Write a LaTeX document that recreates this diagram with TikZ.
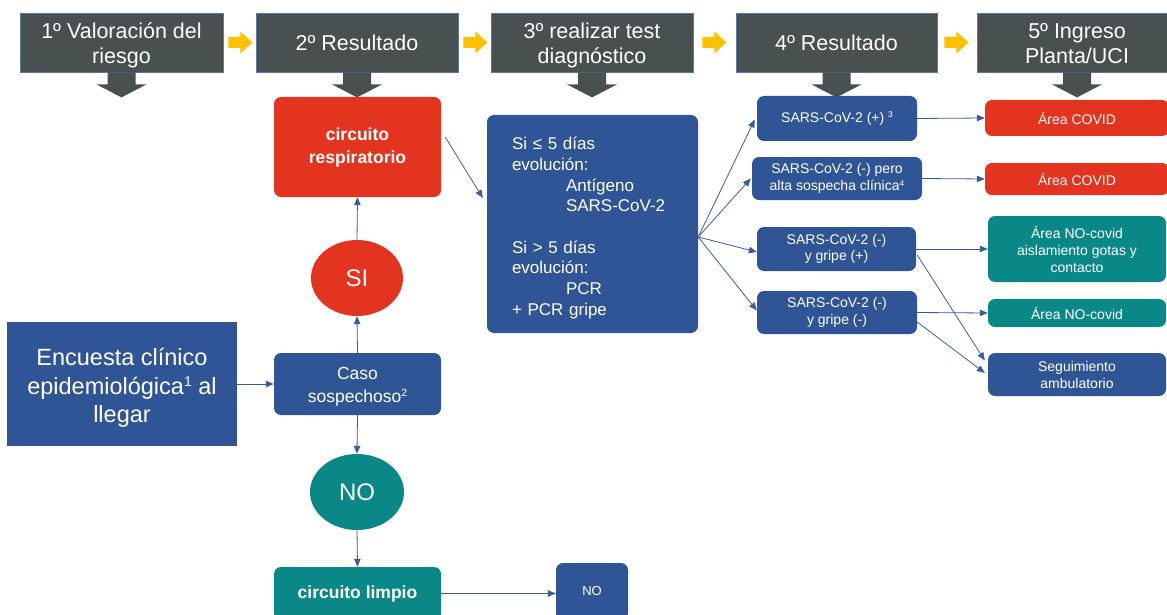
\documentclass[tikz,border=0pt]{standalone}
\usepackage{fontspec}
\setmainfont{Liberation Sans}
\usetikzlibrary{arrows.meta,shapes.geometric,calc}
\definecolor{hdrgray}{HTML}{485050}
\definecolor{mblue}{HTML}{2F5597}
\definecolor{lineblue}{HTML}{3A5C9E}
\definecolor{mred}{HTML}{E2341F}
\definecolor{mteal}{HTML}{0A8888}
\definecolor{myellow}{HTML}{FFC000}
\newcommand{\fs}[2]{\fontsize{#1}{#2}\selectfont}
% small raised footnote digit
\newcommand{\supr}[1]{\raisebox{0.3em}{\scalebox{0.6}{#1}}}
% invisible struts that fix the top and bottom of a text block
\newcommand{\topstrut}[1]{\rule{0pt}{#1}}
\newcommand{\botstrut}[1]{\rule[-#1]{0pt}{#1}}

\begin{document}
\begin{tikzpicture}[x=1pt,y=-1pt,
  hdr/.style={fill=hdrgray, draw=mblue!80, line width=0.8pt, text=white,
    font=\fs{21.5}{25}, align=center, minimum height=59pt, inner sep=0pt},
  box/.style={rounded corners=#1, text=white, align=center, inner sep=0pt},
  box/.default=7pt,
  bluebox/.style={box, fill=mblue},
  redbox/.style={box, fill=mred},
  tealbox/.style={box, fill=mteal},
  oval/.style={ellipse, text=white, inner sep=0pt, font=\fs{24}{28}},
  conn/.style={draw=lineblue, line width=0.8pt, -{Triangle[length=8pt,width=6.5pt]}},
  pics/downarrow/.style={code={
    \fill[hdrgray] (-14,0) -- (14,0) -- (14,12) -- (25,12) -- (0,25) -- (-25,12) -- (-14,12) -- cycle;}},
  pics/rightarrow/.style={code={
    \fill[myellow] (0,-5.5) -- (12,-5.5) -- (12,-11) -- (24,0) -- (12,11) -- (12,5.5) -- (0,5.5) -- cycle;}}
]
\useasboundingbox (0,0) rectangle (1167,615);

% step headers
\node[hdr, minimum width=203pt] (h1) at (121.5,42.5) {\topstrut{22pt}1º Valoración del\\riesgo\botstrut{4pt}};
\node[hdr, minimum width=202pt] (h2) at (357,42.5) {2º Resultado};
\node[hdr, minimum width=202pt] (h3) at (592,42.5) {\topstrut{22pt}3º realizar test\\diagnóstico\botstrut{4pt}};
\node[hdr, minimum width=201pt] (h4) at (836.5,42.5) {4º Resultado};
\node[hdr, minimum width=200pt] (h5) at (1077,42.5) {\topstrut{22pt}5º Ingreso\\Planta/UCI\botstrut{4pt}};

% yellow arrows between the steps
\pic at ($(h1.east)+(5,0)$) {rightarrow};
\pic at ($(h2.east)+(5,0)$) {rightarrow};
\pic at ($(h3.east)+(9,0)$) {rightarrow};
\pic at ($(h4.east)+(7,0)$) {rightarrow};

% grey arrows below the steps
\foreach \h in {h1,h2,h3,h4,h5} { \pic at (\h.south) {downarrow}; }

% step 1 and 2
\node[fill=mblue, text=white, align=center, inner sep=0pt, minimum width=230pt,
  minimum height=124pt, font=\fs{23.5}{28.5}] (enc) at (122,384)
  {\topstrut{25pt}Encuesta clínico\\epidemiológica\supr{1} al\\llegar\botstrut{5pt}};
\node[bluebox, minimum width=167pt, minimum height=62pt, font=\fs{17.5}{23}] (caso) at (357.5,384)
  {\topstrut{17pt}Caso\\sospechoso\supr{2}\botstrut{3pt}};
\node[oval, fill=mred, minimum width=92pt, minimum height=76pt] (si) at (357,278) {SI};
\node[redbox=12pt, minimum width=167pt, minimum height=100pt, font=\bfseries\fs{17.5}{23}] (resp) at (357.5,147)
  {circuito\\respiratorio};
\node[oval, fill=mteal, minimum width=94pt, minimum height=76pt] (no) at (357,492) {NO};
\node[tealbox, minimum width=167pt, minimum height=53pt, font=\bfseries\fs{17.5}{22}] (limpio) at (357.5,593.5)
  {circuito limpio};
\node[bluebox=9pt, minimum width=72pt, minimum height=57pt, font=\fs{13}{16}] (nobox) at (592,591.5) {NO};

% step 3
\node[bluebox=24pt, align=left, text width=161pt, inner xsep=25pt, minimum height=218pt,
  font=\fs{17}{20.7}] (test) at (592.5,224)
  {\topstrut{21pt}Si ≤ 5 días\\evolución:\\\hspace*{54pt}Antígeno\\\hspace*{54pt}SARS-CoV-2\\~\\Si > 5 días\\evolución:\\\hspace*{54pt}PCR\\+ PCR gripe\botstrut{4pt}};
\coordinate (fan) at ($(test.east)+(0,13)$);

% step 4
\node[bluebox, minimum width=160pt, minimum height=45pt, font=\fs{14}{16.7}] (r1) at (837,118.5)
  {SARS-CoV-2 (+) \supr{3}};
\node[bluebox, minimum width=170pt, minimum height=43pt, font=\fs{14}{16.7}] (r2) at (837,178.5)
  {SARS-CoV-2 (-) pero\\alta sospecha clínica\supr{4}};
\node[bluebox, minimum width=159pt, minimum height=44pt, font=\fs{14}{16.7}] (r3) at (836.5,249)
  {SARS-CoV-2 (-)\\y gripe (+)};
\node[bluebox, minimum width=160pt, minimum height=43pt, font=\fs{14}{16.7}] (r4) at (837,312.5)
  {SARS-CoV-2 (-)\\y gripe (-)};

% step 5
\node[redbox=6pt, minimum width=184pt, minimum height=36pt, font=\fs{14}{17}] (o1) at (1077,118) {Área COVID};
\node[redbox=6pt, minimum width=184pt, minimum height=32pt, font=\fs{14}{17}] (o2) at (1077,179) {Área COVID};
\node[tealbox=10pt, minimum width=178pt, minimum height=66pt, font=\fs{14}{17}] (o3) at (1077,249)
  {Área NO-covid\\aislamiento gotas y\\contacto};
\node[tealbox=6pt, minimum width=178pt, minimum height=28pt, font=\fs{14}{17}] (o4) at (1077,313) {Área NO-covid};
\node[bluebox, minimum width=178pt, minimum height=43pt, font=\fs{14}{17}] (seg) at (1077,374.5)
  {Seguimiento\\ambulatorio};

% connectors
\draw[conn] (enc.east) -- (caso.west);
\draw[conn] (caso.north) -- (si.south);
\draw[conn] (si.north) -- (resp.south);
\draw[conn] (caso.south) -- (no.north);
\draw[conn] (no.south) -- (limpio.north);
\draw[conn] (limpio.east) -- (limpio.east -| nobox.west);
\draw[conn] ($(resp.east)+(4,-10)$) -- ($(test.west)+(-4,-26)$);
\draw[conn] (fan) -- ($(r1.west)+(-2,1)$);
\draw[conn] (fan) -- ($(r2.west)+(-1,0)$);
\draw[conn] (fan) -- ($(r3.west)+(0,3)$);
\draw[conn] (fan) -- ($(r4.west)+(0,-2)$);
\draw[conn] (r1.east) -- (o1.west);
\draw[conn] (r2.east) -- (o2.west);
\draw[conn] (r3.east) -- (o3.west);
\draw[conn] (r4.east) -- (o4.west);
\draw[conn] ($(r3.east)+(1,6)$) -- ($(seg.west)+(-3,-14)$);
\draw[conn] ($(r4.east)+(0,9.5)$) -- ($(seg.west)+(-3,-1.5)$);
\end{tikzpicture}
\end{document}
